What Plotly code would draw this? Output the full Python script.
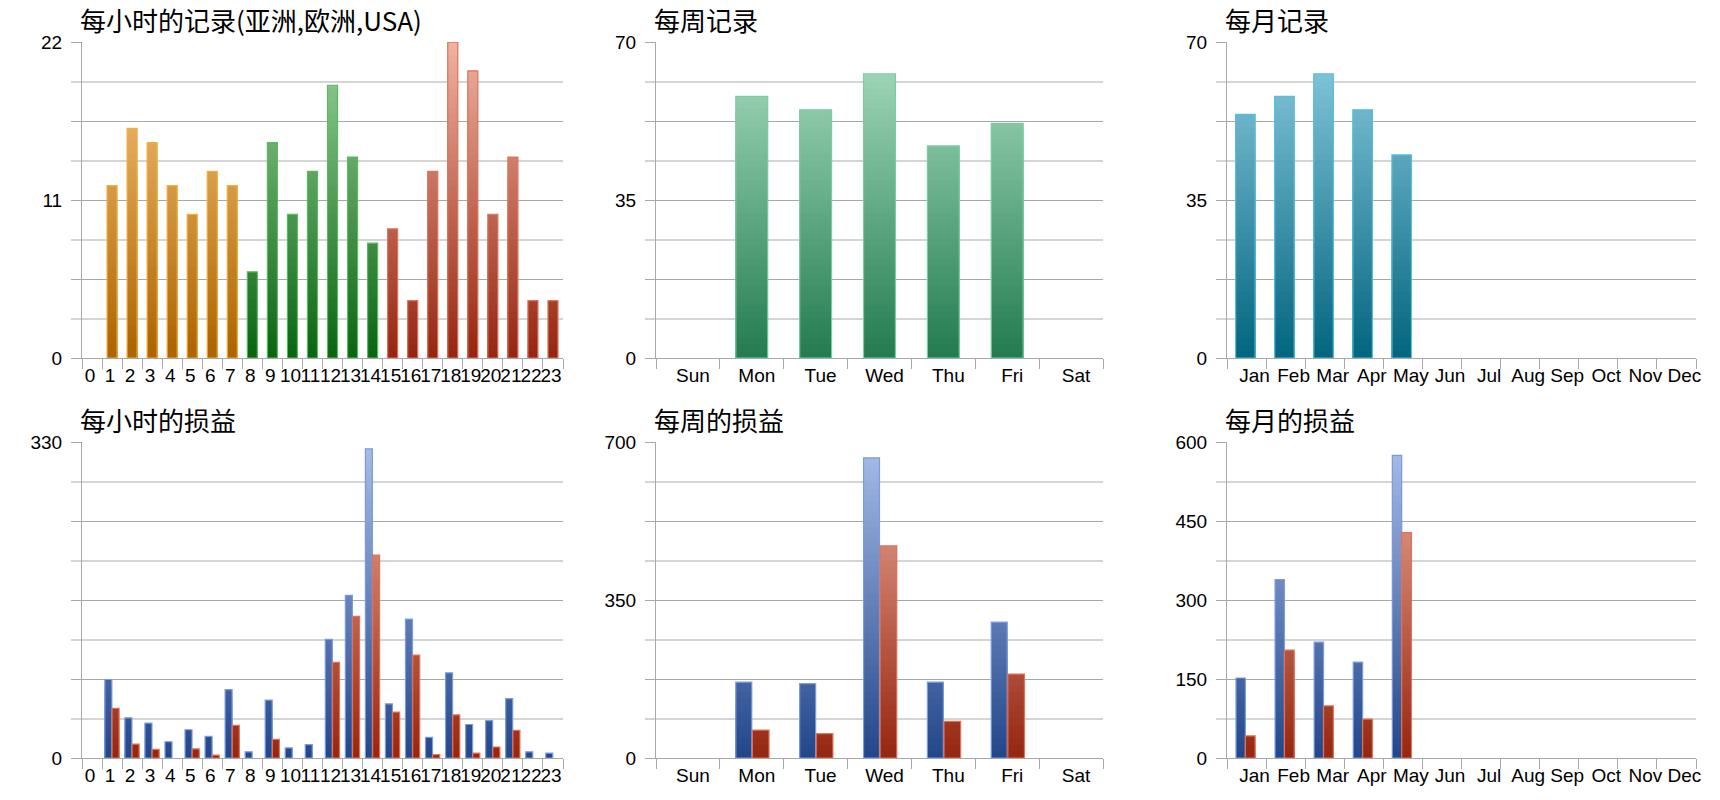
import plotly.graph_objects as go
from plotly.subplots import make_subplots

# ---------------- data ----------------
hours = [str(h) for h in range(24)]
hour_region = ["Asia"] * 8 + ["Europe"] * 7 + ["USA"] * 9
hour_records = [0, 12, 16, 15, 12, 10, 13, 12, 6, 15, 10, 13, 19, 14, 8,
                9, 4, 13, 22, 20, 10, 14, 4, 4]

weekdays = ["Sun", "Mon", "Tue", "Wed", "Thu", "Fri", "Sat"]
week_records = [0, 58, 55, 63, 47, 52, 0]

months = ["Jan", "Feb", "Mar", "Apr", "May", "Jun", "Jul", "Aug", "Sep", "Oct", "Nov", "Dec"]
month_records = [54, 58, 63, 55, 45, 0, 0, 0, 0, 0, 0, 0]

hour_loss_a = [0, 82, 42, 36.5, 17, 29.5, 22.5, 71.5, 6.5, 60.5, 10.5, 14, 124, 170, 323,
               56.5, 145, 21.5, 89, 35, 39, 62, 6.5, 5]
hour_loss_b = [0, 52, 14.5, 9, 0, 9.5, 3, 34, 0, 19.5, 0, 0, 100, 148, 212,
               48, 107.5, 3.5, 45, 5, 11.5, 29, 0, 0]

week_loss_a = [0, 168, 165, 665, 168, 301, 0]
week_loss_b = [0, 62, 54, 470, 81, 186, 0]

month_loss_a = [152, 339, 220, 182, 575, 0, 0, 0, 0, 0, 0, 0]
month_loss_b = [42, 205, 99, 74, 428, 0, 0, 0, 0, 0, 0, 0]

titles = ["每小时的记录(亚洲,欧洲,USA)", "每周记录", "每月记录",
          "每小时的损益", "每周的损益", "每月的损益"]

axis_max = [22, 70, 70, 330, 700, 600]
tick_labels = [
    ["0", "", "11", "", "22"],
    ["0", "", "35", "", "70"],
    ["0", "", "35", "", "70"],
    ["0", "", "", "", "330"],
    ["0", "", "350", "", "700"],
    ["0", "150", "300", "450", "600"],
]

# ---------------- styles ----------------
REGION_COL = {
    "Asia": ("#AC6300", "#F8C880", "#F3AE3E"),
    "Europe": ("#0A6410", "#98D29B", "#5CB862"),
    "USA": ("#952510", "#F0B2A2", "#E0735A"),
}
WEEK_COL = ("#237B50", "#A9DEC1", "#7ACDA3")
MONTH_COL = ("#02657E", "#8CCCE0", "#58BEDC")
BLUE_COL = ("#22468A", "#A9BEEA", "#7B9BDD")
RED_COL = ("#952610", "#EFB0A0", "#E07258")

GRID_DARK = "#A8A8A8"
GRID_LIGHT = "#D5D5D5"
TICK_FONT = dict(family="Liberation Sans, Arial, sans-serif", size=19, color="#000000")
TITLE_FONT = dict(family="Noto Sans CJK SC, sans-serif", size=26, color="#000000")
N_SLICES = 48


def hex2rgb(h):
    h = h.lstrip("#")
    return tuple(int(h[i:i + 2], 16) for i in (0, 2, 4))


def lerp(c0, c1, t):
    a, b = hex2rgb(c0), hex2rgb(c1)
    return "rgb(%d,%d,%d)" % tuple(round(a[i] + (b[i] - a[i]) * t) for i in range(3))


fig = make_subplots(rows=2, cols=3)


def gradient_bars(row, col, cats, values, bottoms, tops, borders, ymax, offset, width):
    """Bars with a vertical gradient tied to the value axis (dark at 0, light at max)."""
    for k in reversed(range(N_SLICES)):
        lo = k * ymax / N_SLICES
        hi = (k + 1) * ymax / N_SLICES
        ys = [min(v, hi) if v > lo else None for v in values]
        if all(y is None for y in ys):
            continue
        t = (k + 0.5) / N_SLICES
        cols = [lerp(b, tp, t) for b, tp in zip(bottoms, tops)]
        fig.add_trace(go.Bar(x=cats, y=ys, offset=offset, width=width,
                             marker=dict(color=cols, line=dict(width=0)),
                             hoverinfo="skip", showlegend=False), row=row, col=col)
    fig.add_trace(go.Bar(x=cats, y=[v if v > 0 else None for v in values],
                         offset=offset, width=width,
                         marker=dict(color="rgba(0,0,0,0)", line=dict(color=borders, width=1.2)),
                         showlegend=False), row=row, col=col)


gradient_bars(1, 1, hours, hour_records,
              [REGION_COL[r][0] for r in hour_region],
              [REGION_COL[r][1] for r in hour_region],
              [REGION_COL[r][2] for r in hour_region],
              axis_max[0], -0.25, 0.5)

gradient_bars(1, 2, weekdays, week_records,
              [WEEK_COL[0]] * 7, [WEEK_COL[1]] * 7, [WEEK_COL[2]] * 7,
              axis_max[1], -0.25, 0.5)

gradient_bars(1, 3, months, month_records,
              [MONTH_COL[0]] * 12, [MONTH_COL[1]] * 12, [MONTH_COL[2]] * 12,
              axis_max[2], -0.28, 0.5)

for col, cats, a, b, ymax, (oa, wa, ob, wb) in [
    (1, hours, hour_loss_a, hour_loss_b, axis_max[3], (-0.36, 0.35, 0.0, 0.35)),
    (2, weekdays, week_loss_a, week_loss_b, axis_max[4], (-0.25, 0.25, 0.01, 0.26)),
    (3, months, month_loss_a, month_loss_b, axis_max[5], (-0.27, 0.24, -0.03, 0.25)),
]:
    n = len(cats)
    gradient_bars(2, col, cats, a, [BLUE_COL[0]] * n, [BLUE_COL[1]] * n, [BLUE_COL[2]] * n, ymax, oa, wa)
    gradient_bars(2, col, cats, b, [RED_COL[0]] * n, [RED_COL[1]] * n, [RED_COL[2]] * n, ymax, ob, wb)

# ---------------- layout ----------------
W, H = 1720, 800
x_dom = [(82, 563), (656, 1103), (1227, 1696)]
y_dom = [(42, 358), (442, 758)]
label_shift = [-2, 5, 8]
cats_list = [hours, weekdays, months]

for i in range(6):
    r, c = divmod(i, 3)
    ax_idx = "" if i == 0 else str(i + 1)
    ymax = axis_max[i]
    q = ymax / 4
    fig.layout["xaxis" + ax_idx].update(
        domain=[x_dom[c][0] / W, x_dom[c][1] / W],
        type="category", tickmode="array", tickvals=cats_list[c], ticktext=cats_list[c],
        tickangle=0, ticks="outside", tickson="boundaries", ticklen=10,
        tickcolor=GRID_DARK, tickwidth=1, showline=True, linecolor=GRID_DARK, linewidth=1,
        showgrid=False, zeroline=False, tickfont=TICK_FONT, ticklabelshift=label_shift[c],
        range=[-0.5, len(cats_list[c]) - 0.5], fixedrange=True, automargin=False,
    )
    fig.layout["yaxis" + ax_idx].update(
        domain=[1 - y_dom[r][1] / H, 1 - y_dom[r][0] / H],
        range=[0, ymax * 1.0005], tickmode="array",
        tickvals=[0, q, 2 * q, 3 * q, 4 * q], ticktext=tick_labels[i],
        ticks="outside", ticklen=10, tickcolor=GRID_DARK, tickwidth=1,
        showline=True, linecolor=GRID_DARK, linewidth=1,
        showgrid=True, gridcolor=GRID_DARK, gridwidth=1, zeroline=False,
        tickfont=TICK_FONT, ticklabelstandoff=5, fixedrange=True, automargin=False,
        minor=dict(tickmode="array", tickvals=[q / 2, 3 * q / 2, 5 * q / 2, 7 * q / 2],
                   ticks="outside", ticklen=10, tickcolor=GRID_LIGHT, tickwidth=2,
                   showgrid=True, gridcolor=GRID_LIGHT, gridwidth=2),
    )

annotations = []
for i, t in enumerate(titles):
    r, c = divmod(i, 3)
    annotations.append(dict(
        text=t, xref="paper", yref="paper",
        x=(x_dom[c][0] - 4) / W, y=1 - (y_dom[r][0] - 23) / H,
        xanchor="left", yanchor="middle", showarrow=False, font=TITLE_FONT,
    ))

fig.update_layout(
    width=W, height=H, margin=dict(l=0, r=0, t=0, b=0, pad=0),
    paper_bgcolor="white", plot_bgcolor="white",
    barmode="overlay", showlegend=False, annotations=annotations,
)

fig.write_html("out.html", config={"responsive": False, "displayModeBar": False},
               post_script="document.body.style.margin='0';document.body.style.overflow='hidden';")
